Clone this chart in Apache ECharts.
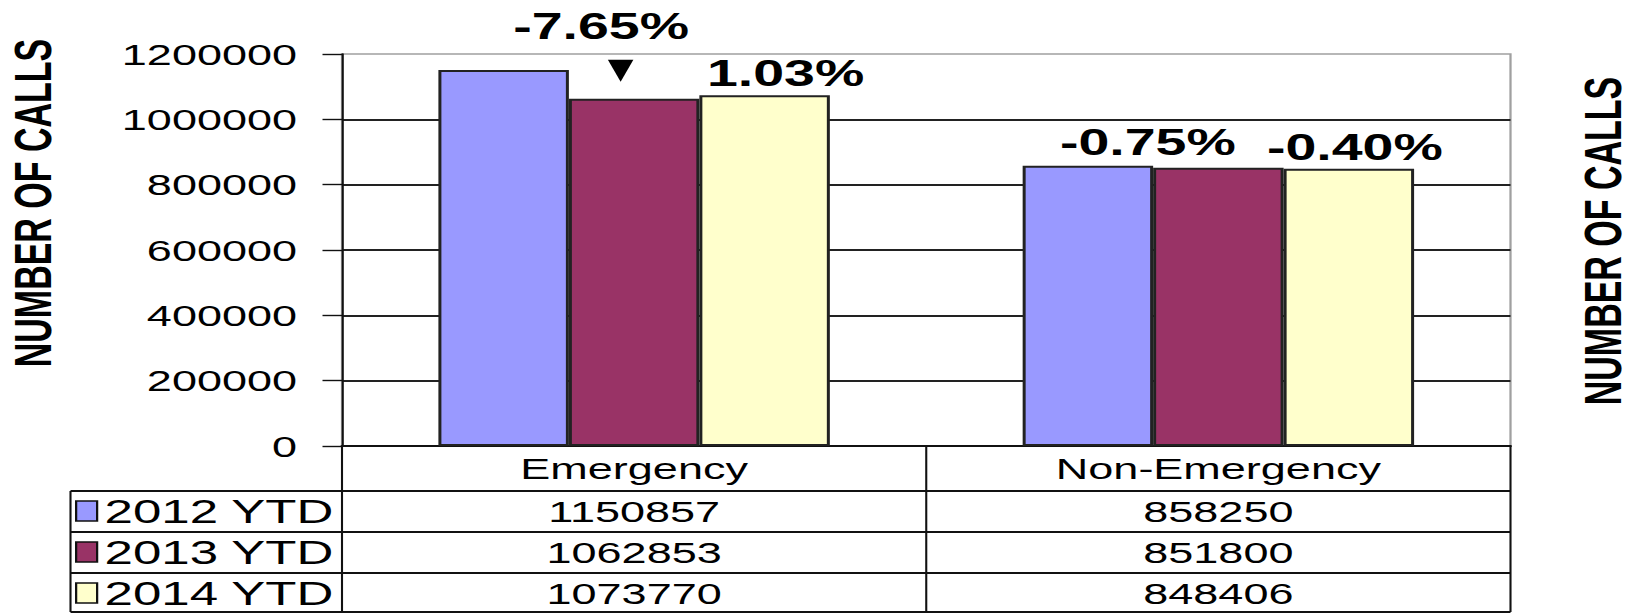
<!DOCTYPE html>
<html>
<head>
<meta charset="utf-8">
<script src="https://cdn.jsdelivr.net/npm/echarts@6/dist/echarts.min.js"></script>
<style>
html, body { margin: 0; padding: 0; background: #fff; overflow: hidden; }
/* the reference is an Excel chart stretched 1.5x sideways, so draw narrow and stretch */
#chart { width: 1090px; height: 613px; transform: scaleX(1.5); transform-origin: 0 0; }
</style>
</head>
<body>
<div id="chart"></div>
<script>
var categories = ['Emergency', 'Non-Emergency'];
var seriesNames = ['2012 YTD', '2013 YTD', '2014 YTD'];
var calls2012 = [1150857, 858250];
var calls2013 = [1062853, 851800];
var calls2014 = [1073770, 848406];
var change2013 = ['-7.65%', '-0.75%'];
var change2014 = ['1.03%', '-0.40%'];
var yMin = 0, yMax = 1200000, yStep = 200000;

var FONT = 'Liberation Sans, Arial, sans-serif';
var colors = ['#9999FF', '#993366', '#FFFFCC'];
var rows = [calls2012, calls2013, calls2014];
var rowOffsets = [45, 86, 127, 166]; // table row lines below the axis
var legendLeftX = 47;

// label offsets, x in unstretched px
var offsets2013 = [[-22, -73], [-47, -26]];
var offsets2014 = [[14, -22], [4, -22]];

var chart = echarts.init(document.getElementById('chart'), null, { renderer: 'svg' });

function barSeries(name, values, color, labels, offs) {
	return {
		name: name,
		type: 'bar',
		barGap: '0%',
		barCategoryGap: '33%',
		itemStyle: { color: color, borderColor: '#222', borderWidth: 2 },
		data: values.map(function (v, i) {
			var d = { value: v };
			if (labels) {
				d.label = {
					show: true,
					position: 'top',
					distance: 0,
					align: 'center',
					verticalAlign: 'middle',
					offset: offs[i],
					formatter: labels[i],
					fontFamily: FONT,
					fontWeight: 'bold',
					fontSize: 37,
					color: '#000'
				};
			}
			return d;
		})
	};
}

var xAxes = [{
	type: 'category',
	data: categories,
	position: 'bottom',
	axisLine: { show: true, onZero: false, lineStyle: { color: '#111', width: 2 } },
	axisTick: { show: false },
	axisLabel: { interval: 0, margin: 7, fontSize: 30, color: '#000', fontFamily: FONT },
	splitLine: { show: false }
}];
rows.forEach(function (vals, r) {
	xAxes.push({
		type: 'category',
		data: categories,
		position: 'bottom',
		offset: rowOffsets[r],
		axisLine: { show: false },
		axisTick: { show: false },
		axisLabel: {
			interval: 0, margin: 5, fontSize: 30, color: '#000', fontFamily: FONT,
			formatter: function (v, idx) { return String(vals[idx]); }
		},
		splitLine: { show: false }
	});
});

var s2013 = barSeries(seriesNames[1], calls2013, colors[1], change2013, offsets2013);
s2013.markPoint = {
	symbol: 'triangle',
	symbolRotate: 180,
	symbolSize: [17, 22],
	symbolOffset: [-9, -28],
	itemStyle: { color: '#000' },
	label: { show: false },
	data: [{ coord: [categories[0], calls2013[0]] }]
};

chart.setOption({
	backgroundColor: '#fff',
	animation: false,
	grid: {
		left: 228, right: 83, top: 54, bottom: 167,
		show: true, borderColor: '#a0a0a0', borderWidth: 1.5, backgroundColor: '#fff'
	},
	legend: {
		data: seriesNames,
		orient: 'vertical',
		left: 50,
		top: 494,
		padding: 0,
		itemWidth: 14,
		itemHeight: 20,
		itemGap: 7,
		icon: 'rect',
		itemStyle: { borderColor: '#111', borderWidth: 1.5 },
		textStyle: { fontSize: 34, lineHeight: 34, color: '#000', fontFamily: FONT },
		selectedMode: false
	},
	xAxis: xAxes,
	yAxis: {
		type: 'value',
		min: yMin,
		max: yMax,
		interval: yStep,
		axisLine: { show: true, lineStyle: { color: '#111', width: 1.4 } },
		axisTick: { show: true, inside: false, length: 13, lineStyle: { color: '#111', width: 1.4 } },
		axisLabel: {
			margin: 30, fontSize: 30, color: '#000', fontFamily: FONT,
			formatter: function (v) { return String(v); }
		},
		splitLine: { show: true, showMinLine: false, showMaxLine: false, lineStyle: { color: '#222', width: 2 } }
	},
	series: [
		barSeries(seriesNames[0], calls2012, colors[0]),
		s2013,
		barSeries(seriesNames[2], calls2014, colors[2], change2014, offsets2014)
	]
});

// data table borders, placed from the category axis and the value axis
var c0 = chart.convertToPixel({ xAxisIndex: 0 }, categories[0]);
var c1 = chart.convertToPixel({ xAxisIndex: 0 }, categories[1]);
var half = (c1 - c0) / 2;
var xl = c0 - half, xm = c0 + half, xr = c1 + half;
var y0 = chart.convertToPixel({ yAxisIndex: 0 }, 0);
var yEnd = y0 + rowOffsets[rowOffsets.length - 1];

function line(x1, y1, x2, y2, w) {
	return { type: 'line', z: 50, shape: { x1: x1, y1: y1, x2: x2, y2: y2 }, style: { stroke: '#111', lineWidth: w } };
}
var g = [
	line(xl, y0, xl, yEnd, 1.4),
	line(xm, y0, xm, yEnd, 1.4),
	line(xr, y0, xr, yEnd, 1.4),
	line(legendLeftX, y0 + rowOffsets[0], legendLeftX, yEnd, 1.4)
];
rowOffsets.forEach(function (o) {
	g.push(line(legendLeftX, y0 + o, xr, y0 + o, 2));
});
g.push({
	type: 'text', x: 22, y: 203, rotation: Math.PI / 2,
	style: { text: 'NUMBER OF CALLS', fontSize: 34, fontWeight: 'bold', fontFamily: FONT, fill: '#000', align: 'center', verticalAlign: 'middle' }
});
g.push({
	type: 'text', x: 1069, y: 241, rotation: Math.PI / 2,
	style: { text: 'NUMBER OF CALLS', fontSize: 34, fontWeight: 'bold', fontFamily: FONT, fill: '#000', align: 'center', verticalAlign: 'middle' }
});
chart.setOption({ graphic: g });
</script>
</body>
</html>
